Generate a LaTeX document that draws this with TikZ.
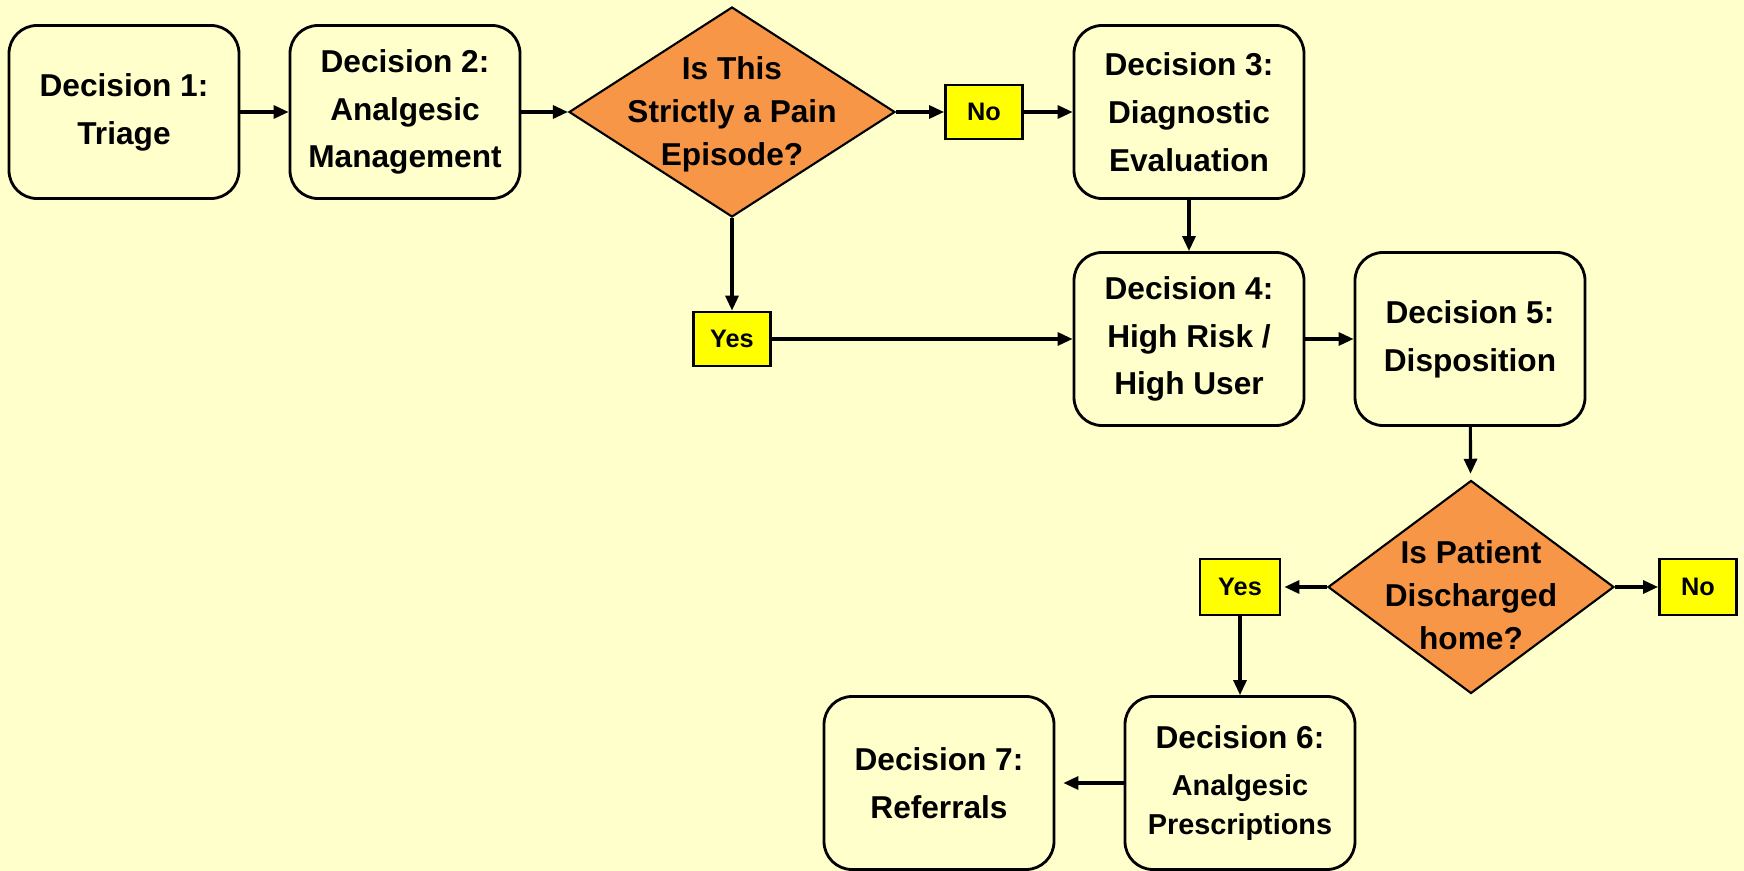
\documentclass[tikz,border=0pt]{standalone}
\usepackage{fontspec}
\setmainfont{Liberation Sans}
\usetikzlibrary{shapes.geometric,arrows.meta}

\definecolor{bgyellow}{HTML}{FFFFCC}
\definecolor{askorange}{HTML}{F79646}
\definecolor{ansyellow}{HTML}{FFFF00}

\tikzset{
	decbox/.style={draw, line width=0.8pt, rounded corners=2.8mm, fill=bgyellow, minimum width=23mm, minimum height=17.3mm, inner sep=0pt, align=center, font=\fontsize{9}{13.6}\selectfont\bfseries},
	askdia/.style={draw, diamond, fill=askorange, line width=0.6pt, inner sep=0pt},
	asktext/.style={align=center, font=\fontsize{9}{12.2}\selectfont\bfseries},
	answer/.style={draw, fill=ansyellow, line width=0.8pt, minimum width=7.7mm, minimum height=5.4mm, inner sep=0pt, font=\fontsize{7.2}{9}\selectfont\bfseries},
	flow/.style={-{Triangle[length=1.5mm,width=1.3mm]}, line width=0.9pt}
}

\begin{document}
\begin{tikzpicture}[x=0.1mm, y=-0.1mm]

%% Hintergrund
\fill[bgyellow] (0,0) rectangle (1744,871);

%% Obere Reihe
\node[decbox] (d1) at (124,112) {Decision 1:\\Triage};
\node[decbox] (d2) at (405,112) {Decision 2:\\Analgesic\\Management};
\node[askdia, minimum width=32.6mm, minimum height=21mm] (q1) at (732,112) {};
\node[asktext] (q1t) at (732,114) {Is This\\Strictly a Pain\\Episode?};
\node[answer] (no1) at (984,112) {No};
\node[decbox] (d3) at (1189,112) {Decision 3:\\Diagnostic\\Evaluation};
%%%%%%%%%%%%%%%%

%% Mittlere Reihe
\node[answer] (yes1) at (732,339) {Yes};
\node[decbox] (d4) at (1189,339) {Decision 4:\\High Risk /\\High User};
\node[decbox] (d5) at (1470,339) {Decision 5:\\Disposition};
%%%%%%%%%%%%%%%%

%% Untere Reihe
\node[askdia, minimum width=28.6mm, minimum height=21.3mm] (q2) at (1471,587) {};
\node[asktext] (q2t) at (1471,595) {Is Patient\\Discharged\\home?};
\node[answer, minimum width=8mm, minimum height=5.6mm] (yes2) at (1240,587) {Yes};
\node[answer, minimum height=5.6mm] (no2) at (1698,587) {No};
\node[decbox] (d6) at (1240,783) {Decision 6:\\[-0.3pt]\fontsize{8.2}{11}\selectfont Analgesic\\[-2.5pt]\fontsize{8.2}{11}\selectfont Prescriptions};
\node[decbox] (d7) at (939,783) {Decision 7:\\Referrals};
%%%%%%%%%%%%%%%%

%% Pfeile
\draw[flow] (d1) -- (d2);
\draw[flow] (d2) -- (q1);
\draw[flow] (q1) -- (no1);
\draw[flow] (no1) -- (d3);
\draw[flow] (d3) -- (d4);
\draw[flow] (q1) -- (yes1);
\draw[flow] (yes1) -- (d4);
\draw[flow] (d4) -- (d5);
\draw[flow, shorten >=0.6mm] (d5) -- (q2);
\draw[flow, shorten >=0.3mm] (q2) -- (yes2);
\draw[flow] (q2) -- (no2);
\draw[flow] (yes2) -- (d6);
\draw[flow, shorten >=0.8mm] (d6) -- (d7);

\end{tikzpicture}
\end{document}
